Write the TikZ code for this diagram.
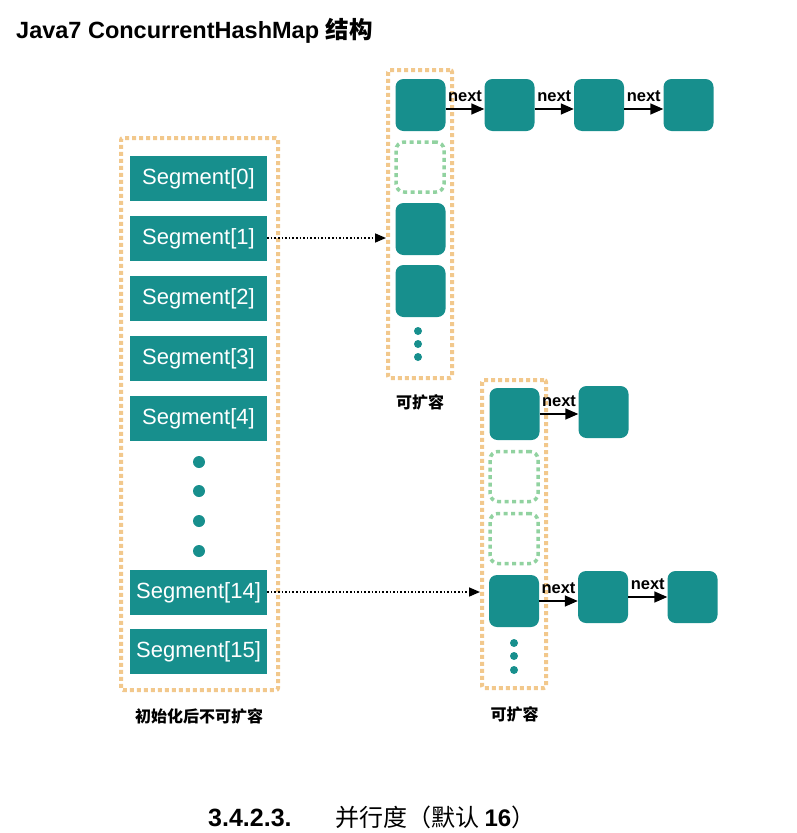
\documentclass[tikz,border=0pt]{standalone}
\usepackage{fontspec}
\setmainfont{Liberation Sans}
\newfontfamily\cjk{Noto Sans CJK SC}
\usepackage{xcolor}
\usetikzlibrary{positioning,arrows.meta}
\definecolor{tealbox}{RGB}{23,143,141}
\definecolor{dotorange}{RGB}{242,200,140}
\definecolor{dotgreen}{RGB}{145,210,160}

\begin{document}
\begin{tikzpicture}[x=1pt, y=-1pt,
  holder/.style={draw=dotorange, line width=4pt, dash pattern=on 4pt off 3pt, rounded corners=2pt, minimum width=64pt, minimum height=308pt, inner sep=0pt},
  seg/.style={fill=tealbox, minimum width=137pt, minimum height=45pt, text=white, font=\fontsize{22}{26}\selectfont, inner sep=0pt, text depth=0pt, text height=12pt},
  cell/.style={fill=tealbox, rounded corners=8pt, minimum width=50pt, minimum height=52pt, inner sep=0pt},
  spare/.style={draw=dotgreen, line width=3.5pt, dash pattern=on 4pt off 3.5pt, rounded corners=8pt, minimum width=48pt, minimum height=50pt, inner sep=0pt},
  dot/.style={circle, fill=tealbox, inner sep=0pt, minimum size=12pt},
  sdot/.style={circle, fill=tealbox, inner sep=0pt, minimum size=8pt},
  note/.style={font=\cjk\bfseries\fontsize{16}{18}\selectfont},
  nxt/.style={-{Triangle[length=13pt,width=11pt]}, line width=1.5pt},
  ptr/.style={-{Triangle[length=11pt,width=9pt]}, dotted, line width=1.6pt},
  lbl/.style={above=6pt, font=\bfseries\fontsize{16.5}{18}\selectfont, inner sep=1pt}
]
\useasboundingbox (0,0) rectangle (797,833);

\node[anchor=base west, font=\bfseries\fontsize{23.5}{28}\selectfont, inner sep=0pt] (title) at (16,38) {Java7 ConcurrentHashMap {\cjk 结构}};

% segment array
\node[holder, minimum width=157pt, minimum height=552pt] (segs) at (199.5,414) {};
\foreach \i in {0,...,4}
  \node[seg] (seg\i) at (198.5,178+60*\i) {Segment[\i]};
\foreach \y in {462,491,521,551}
  \node[dot] (gap\y) at (199,\y) {};
\node[seg] (seg14) at (198.5,592) {Segment[14]};
\node[seg] (seg15) at (198.5,651.5) {Segment[15]};
\node[note] (fixed) at (199,716) {初始化后不可扩容};

% upper table
\node[holder] (up) at (420,224) {};
\node[cell] (a0) at (420.5,105) {};
\node[spare] (a1) at (420,167) {};
\node[cell] (a2) at (420.5,229) {};
\node[cell] (a3) at (420.5,291) {};
\foreach \y in {331,344,357}
  \node[sdot] (adot\y) at (418,\y) {};
\node[note] (grow1) at (420,402) {可扩容};

\node[cell] (a0n1) at (509.5,105) {};
\node[cell] (a0n2) at (599,105) {};
\node[cell] (a0n3) at (688.5,105) {};
\draw[nxt] ([yshift=-4pt]a0.east) -- ([yshift=-4pt]a0n1.west) node[midway,lbl] {next};
\draw[nxt] ([yshift=-4pt]a0n1.east) -- ([yshift=-4pt]a0n2.west) node[midway,lbl] {next};
\draw[nxt] ([yshift=-4pt]a0n2.east) -- ([yshift=-4pt]a0n3.west) node[midway,lbl] {next};

% lower table
\node[holder] (low) at (514,534) {};
\node[cell] (b0) at (514.5,414) {};
\node[spare] (b1) at (514,476.5) {};
\node[spare] (b2) at (514,538.5) {};
\node[cell] (b3) at (514,601) {};
\foreach \y in {643,656,670}
  \node[sdot] (bdot\y) at (514,\y) {};
\node[note] (grow2) at (514.5,714) {可扩容};

\node[cell] (b0n1) at (603.5,412) {};
\node[cell] (b3n1) at (603,597) {};
\node[cell] (b3n2) at (692.5,597) {};
\draw[nxt] (b0.east) -- (b0.east -| b0n1.west) node[midway,lbl] {next};
\draw[nxt] (b3.east) -- (b3.east -| b3n1.west) node[midway,lbl] {next};
\draw[nxt] (b3n1.east) -- (b3n1.east -| b3n2.west) node[midway,lbl] {next};

% segment pointers
\draw[ptr] (seg1.east) -- (seg1.east -| up.west);
\draw[ptr] (seg14.east) -- (seg14.east -| low.west);

\node[anchor=base west, font=\bfseries\fontsize{25}{30}\selectfont, inner sep=0pt] (secno) at (208,826) {3.4.2.3.};
\node[anchor=base west, font=\fontsize{24}{28}\selectfont, inner sep=0pt] (sectitle) at (335,826) {\cjk 并行度（默认 {\rmfamily\bfseries 16}）};

\end{tikzpicture}
\end{document}
